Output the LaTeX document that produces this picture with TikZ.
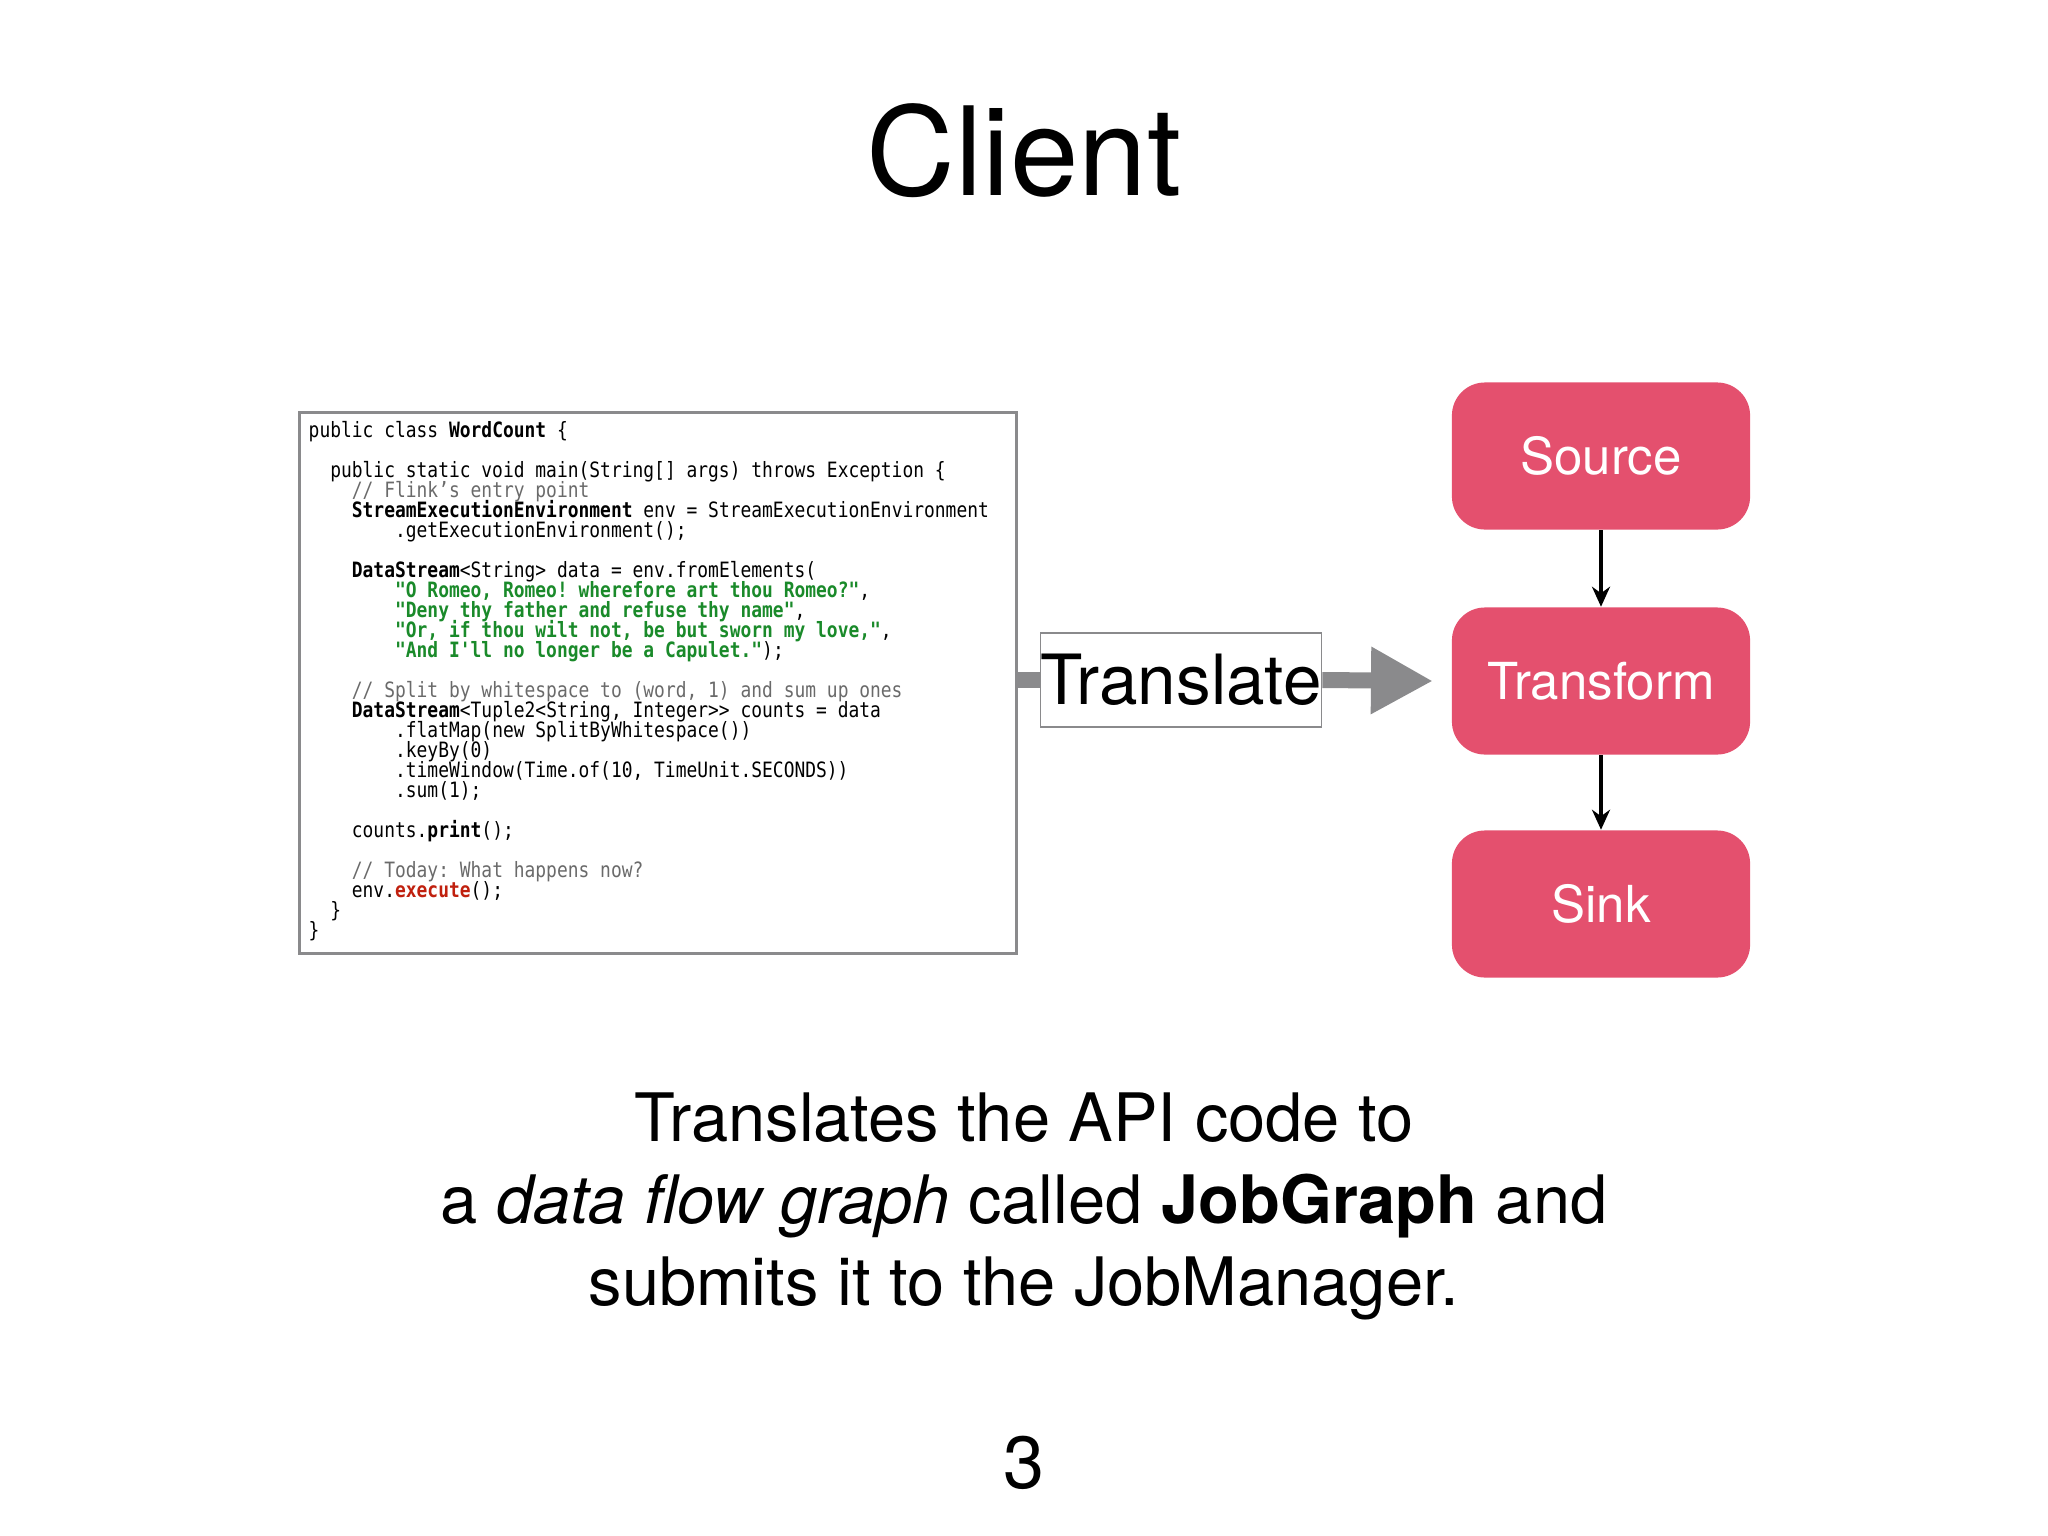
\documentclass[tikz,border=0pt]{standalone}
\usepackage{fontspec}
\setmainfont{TeX Gyre Heros}
\setmonofont{DejaVu Sans Mono}[FakeStretch=0.85]
\usetikzlibrary{arrows.meta,positioning}
\definecolor{opred}{HTML}{E4506E}
\definecolor{arrowgray}{HTML}{8A8A8C}
\definecolor{strgreen}{HTML}{1A8A2A}
\definecolor{kwred}{HTML}{C0200E}
\definecolor{cmtgray}{HTML}{6A6A6A}
\newcommand{\ind}[1]{\hspace*{#1\fontcharwd\font`x}}
\newcommand{\str}[1]{\textcolor{strgreen}{\textbf{#1}}}
\newcommand{\cmt}[1]{\textcolor{cmtgray}{#1}}
\newcommand{\codefont}{\ttfamily\fontsize{6}{5.68}\selectfont\setlength{\lineskiplimit}{-20pt}}
\tikzset{
  opbox/.style={draw=none, fill=opred, rounded corners=0.33cm, minimum width=2.98cm, minimum height=1.47cm,
    text=white, font=\fontsize{14.5}{16}\selectfont, inner sep=0pt},
  flow/.style={-{Stealth[length=0.2cm,width=0.18cm]}, line width=0.045cm},
}
\begin{document}
\begin{tikzpicture}[x=0.01cm, y=-0.01cm]
        \useasboundingbox (0,0) rectangle (2048,1536);

        % title
        \node (title) at (1024,151) {\fontsize{35}{40}\selectfont Client};

        % code
        \node[draw=arrowgray, line width=0.03cm, minimum width=7.17cm, minimum height=5.41cm, anchor=north west] (code) at (298,411) {};
        \node[anchor=north west, inner sep=0pt, align=left, font=\codefont] (src) at (308,421) {%
public class \textbf{WordCount} \{\\
\mbox{}\\
\ind{2}public static void main(String[] args) throws Exception \{\\
\ind{4}\cmt{// Flink’s entry point}\\
\ind{4}\textbf{StreamExecutionEnvironment} env = StreamExecutionEnvironment\\
\ind{8}.getExecutionEnvironment();\\
\mbox{}\\
\ind{4}\textbf{DataStream}<String> data = env.fromElements(\\
\ind{8}\str{"O Romeo, Romeo! wherefore art thou Romeo?"},\\
\ind{8}\str{"Deny thy father and refuse thy name"},\\
\ind{8}\str{"Or, if thou wilt not, be but sworn my love,"},\\
\ind{8}\str{"And I'll no longer be a Capulet."});\\
\mbox{}\\
\ind{4}\cmt{// Split by whitespace to (word, 1) and sum up ones}\\
\ind{4}\textbf{DataStream}<Tuple2<String, Integer>{}> counts = data\\
\ind{8}.flatMap(new SplitByWhitespace())\\
\ind{8}.keyBy(0)\\
\ind{8}.timeWindow(Time.of(10, TimeUnit.SECONDS))\\
\ind{8}.sum(1);\\
\mbox{}\\
\ind{4}counts.\textbf{print}();\\
\mbox{}\\
\ind{4}\cmt{// Today: What happens now?}\\
\ind{4}env.\textcolor{kwred}{\textbf{execute}}();\\
\ind{2}\}\\
\}};

        % job graph
        \node[opbox] (source) at (1601,456) {Source};
        \node[opbox] (transform) at (1601,681) {Transform};
        \node[opbox] (sink) at (1601,904) {Sink};
        \draw[flow] (source) -- (transform);
        \draw[flow] (transform) -- (sink);

        % translate
        \node[draw=arrowgray, line width=0.015cm, fill=white, minimum width=2.65cm, minimum height=0.94cm, inner sep=0pt,
              font=\fontsize{19.7}{22}\selectfont] (translate) at (1181,680) {Translate};
        \coordinate (tip) at (1433,681);
        \draw[arrowgray, line width=0.16cm] (code.east |- translate) -- (translate.west);
        \draw[arrowgray, line width=0.16cm, -{Triangle[length=0.62cm,width=0.63cm]}] (translate.east) -- (tip);

        % caption
        \node[align=center, font=\fontsize{19}{23.3}\selectfont] (caption) at (1024,1206)
          {Translates the API code to\\ a \textit{data flow graph} called \textbf{JobGraph} and\\ submits it to the JobManager.};
        \node[font=\fontsize{21}{24}\selectfont] (page) at (1024,1463) {3};
\end{tikzpicture}
\end{document}
